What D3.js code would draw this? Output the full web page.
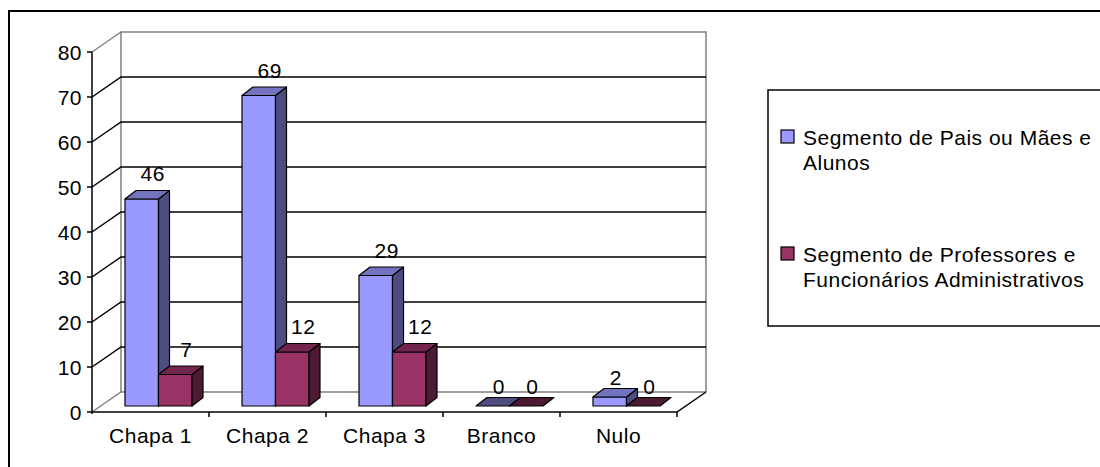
<!DOCTYPE html>
<html>
<head>
<meta charset="utf-8">
<script src="https://cdn.jsdelivr.net/npm/d3@7"></script>
<style>
  html, body { margin: 0; padding: 0; background: #fff; }
  svg text { font-family: "Liberation Sans", Arial, sans-serif; font-size: 21px; fill: #000; letter-spacing: 0.5px; }
</style>
</head>
<body>
<svg id="chart" width="1100" height="467"></svg>
<script>
// Votes per ballot option, split by electoral segment
const categories = ["Chapa 1", "Chapa 2", "Chapa 3", "Branco", "Nulo"];
const seriesNames = [
  ["Segmento de Pais ou Mães e", "Alunos"],
  ["Segmento de Professores e", "Funcionários Administrativos"]
];
const paisAlunos = [46, 69, 29, 0, 2];
const professoresFuncionarios = [7, 12, 12, 0, 0];
const yTicks = [0, 10, 20, 30, 40, 50, 60, 70, 80];

const series = [paisAlunos, professoresFuncionarios];
const palette = [
  { front: "#9999FF", top: "#7373BF", side: "#4D4D80" },
  { front: "#993366", top: "#73264D", side: "#4D1A33" }
];

const svg = d3.select("#chart");

// Outer chart frame (runs off the right and bottom edges)
svg.append("rect")
  .attr("x", 9).attr("y", 11).attr("width", 1200).attr("height", 600)
  .attr("fill", "none").attr("stroke", "#000").attr("stroke-width", 2);

// 3D box geometry: front plane and wall depth offset
const x0 = 92, x1 = 677;
const depth = { dx: 29, dy: -20 };
const y = d3.scaleLinear().domain([0, 80]).range([412, 52]);
const x = d3.scaleBand().domain(categories).range([x0, x1]).paddingInner(0).paddingOuter(0);

// Bars sit partway into the box
const barDepthStart = 0.3;
const barDepth = { dx: 11, dy: -8.5 };
const groupInset = 24.3;       // from category start (in the bar plane) to first bar
const barW = 33.5;

const gray = "#808080";
const g = svg.append("g");

// Back wall edges
g.append("path")
  .attr("d", `M${x0 + depth.dx},${y(0) + depth.dy} V${y(80) + depth.dy} H${x1 + depth.dx} V${y(0) + depth.dy}`)
  .attr("fill", "none").attr("stroke", gray).attr("stroke-width", 1.5);

// Gridlines: along the side wall and across the back wall
yTicks.filter(t => t > 0).forEach(t => {
  const col = t === 80 ? gray : "#000";
  g.append("path")
    .attr("d", `M${x0},${y(t)} L${x0 + depth.dx},${y(t) + depth.dy}` +
      (t === 80 ? "" : ` H${x1 + depth.dx}`))
    .attr("fill", "none").attr("stroke", col).attr("stroke-width", 1.5);
});

// Floor
g.append("path")
  .attr("d", `M${x0},${y(0)} L${x0 + depth.dx},${y(0) + depth.dy} H${x1 + depth.dx}`)
  .attr("fill", "none").attr("stroke", gray).attr("stroke-width", 1.5);
g.append("path")
  .attr("d", `M${x0},${y(0)} H${x1} L${x1 + depth.dx},${y(0) + depth.dy}`)
  .attr("fill", "none").attr("stroke", "#000").attr("stroke-width", 1.5);

// Value axis
g.append("line")
  .attr("x1", x0).attr("x2", x0).attr("y1", y(80)).attr("y2", y(0) + 2)
  .attr("stroke", "#000").attr("stroke-width", 1.5);
yTicks.forEach(t => {
  g.append("line")
    .attr("x1", x0 - 5).attr("x2", x0).attr("y1", y(t)).attr("y2", y(t))
    .attr("stroke", "#000").attr("stroke-width", 1.5);
  g.append("text")
    .attr("x", 82).attr("y", y(t) + 7.5)
    .attr("text-anchor", "end")
    .text(t);
});

// Category axis ticks and labels
categories.forEach((c, i) => {
  const xe = x(c) + x.bandwidth();
  g.append("line")
    .attr("x1", xe).attr("x2", xe).attr("y1", y(0)).attr("y2", y(0) + 5)
    .attr("stroke", "#000").attr("stroke-width", 1.5);
  g.append("text")
    .attr("x", x(c) + x.bandwidth() / 2).attr("y", 443)
    .attr("text-anchor", "middle")
    .text(c);
});

// Bars
const bx = depth.dx * barDepthStart, by = depth.dy * barDepthStart;
const bars = g.append("g");
const labels = [];
categories.forEach((c, i) => {
  series.forEach((vals, s) => {
    const v = vals[i];
    const left = x(c) + bx + groupInset + s * barW;
    const right = left + barW;
    const bottom = y(0) + by;
    const top = y(v) + by;
    const col = palette[s];
    const ddx = barDepth.dx, ddy = barDepth.dy;
    const bg = bars.append("g").attr("stroke", "#000").attr("stroke-width", 1.2).attr("stroke-linejoin", "round");
    if (v > 0) {
      bg.append("rect").attr("x", left).attr("y", top).attr("width", barW).attr("height", bottom - top)
        .attr("fill", col.front);
      bg.append("path")
        .attr("d", `M${right},${bottom} L${right + ddx},${bottom + ddy} V${top + ddy} L${right},${top} Z`)
        .attr("fill", col.side);
    }
    bg.append("path")
      .attr("d", `M${left},${top} L${left + ddx},${top + ddy} H${right + ddx} L${right},${top} Z`)
      .attr("fill", v > 0 ? col.top : col.side);
    const small = v < 5;
    labels.push({
      v,
      x: (left + right) / 2 + (small ? 6 : 11),
      y: top - (small ? 12 : 18)
    });
  });
});

// Data labels
g.append("g").selectAll("text").data(labels).join("text")
  .attr("x", d => d.x).attr("y", d => d.y)
  .attr("text-anchor", "middle")
  .text(d => d.v);

// Legend
const lg = svg.append("g");
lg.append("rect")
  .attr("x", 768).attr("y", 90).attr("width", 400).attr("height", 236)
  .attr("fill", "#fff").attr("stroke", "#000").attr("stroke-width", 1.5);
const legendRows = [130, 247];
seriesNames.forEach((lines, s) => {
  const top = legendRows[s];
  lg.append("rect")
    .attr("x", 781).attr("y", top).attr("width", 13).attr("height", 13)
    .attr("fill", palette[s].front).attr("stroke", "#000").attr("stroke-width", 1.2);
  lines.forEach((ln, k) => {
    lg.append("text")
      .attr("x", 803).attr("y", top + 15 + k * 25)
      .text(ln);
  });
});
</script>
</body>
</html>
